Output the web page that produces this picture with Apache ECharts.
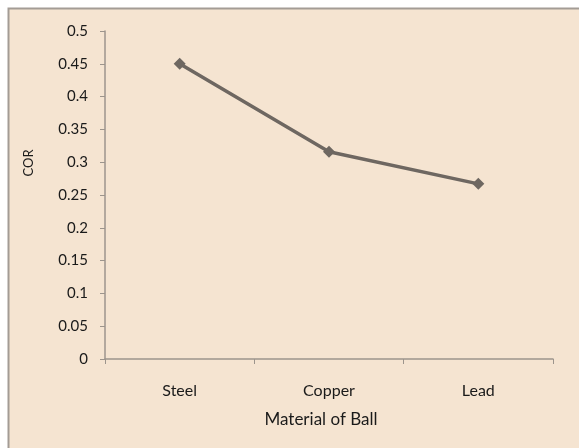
<!DOCTYPE html>
<html>
<head>
<meta charset="utf-8">
<script src="https://cdn.jsdelivr.net/npm/echarts@6/dist/echarts.min.js"></script>
<style>html,body{margin:0;padding:0;background:#fff;}#c{width:579px;height:448px;}</style>
</head>
<body>
<div id="c"></div>
<script>
var categories = ['Steel', 'Copper', 'Lead'];
var corValues = [0.45, 0.316, 0.267];
var yTicks = {min: 0, max: 0.5, interval: 0.05};
var xAxisTitle = 'Material of Ball';
var yAxisTitle = 'COR';

var chart = echarts.init(document.getElementById('c'), null, {renderer: 'canvas'});
var font = 'Lato, "Open Sans", sans-serif';
chart.setOption({
  backgroundColor: '#ffffff',
  animation: false,
  graphic: [
    {type: 'rect', z: -10, shape: {x: 8.5, y: 8.5, width: 600, height: 500},
     style: {fill: '#f5e4d1', stroke: '#a39c95', lineWidth: 2}},
    {type: 'text', x: 29, y: 163, rotation: Math.PI / 2, z: 10,
     style: {text: yAxisTitle, fill: '#1a1a1a', font: '13px ' + font, textAlign: 'center', textVerticalAlign: 'middle'}},
    {type: 'text', x: 321, y: 420, z: 10,
     style: {text: xAxisTitle, fill: '#1a1a1a', font: '17px ' + font, textAlign: 'center', textVerticalAlign: 'middle'}}
  ],
  grid: {left: 105, top: 31, right: 26, bottom: 89},
  xAxis: {
    type: 'category', data: categories, boundaryGap: true,
    axisLine: {lineStyle: {color: '#9c948c', width: 1.5}},
    axisTick: {show: true, length: 5, lineStyle: {color: '#9c948c'}},
    axisLabel: {color: '#1a1a1a', fontSize: 16, fontFamily: font, margin: 24}
  },
  yAxis: {
    type: 'value', min: yTicks.min, max: yTicks.max, interval: yTicks.interval,
    axisLine: {show: true, lineStyle: {color: '#9c948c', width: 1.5}},
    axisTick: {show: true, length: 5, lineStyle: {color: '#9c948c'}},
    splitLine: {show: false},
    axisLabel: {color: '#1a1a1a', fontSize: 15, fontFamily: font, margin: 17}
  },
  series: [{
    type: 'line', data: corValues,
    symbol: 'diamond', symbolSize: 12,
    lineStyle: {color: '#6e6761', width: 3.5},
    itemStyle: {color: '#6e6761'}
  }]
});
</script>
</body>
</html>
